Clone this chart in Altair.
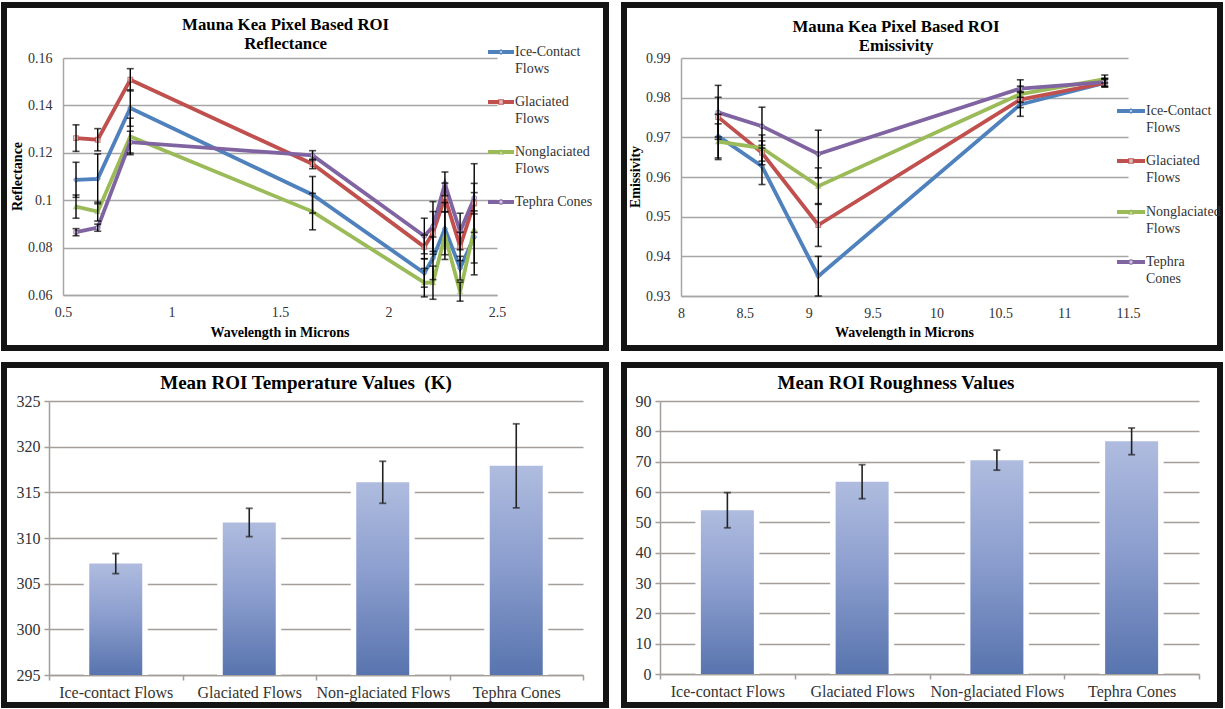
import altair as alt
import pandas as pd

SERIF = "Liberation Serif"
GRID = "#a6a6a6"
BAR_GRID = "#a39e99"
LABEL = "#333333"
FRAME = "#141414"

SERIES = ["Ice-Contact Flows", "Glaciated Flows", "Nonglaciated Flows", "Tephra Cones"]
SERIES_COLORS = ["#4f81bd", "#c0504d", "#9bbb59", "#8064a2"]
SERIES_SHAPES = ["diamond", "square", "triangle-up", "circle"]

# VNIR / SWIR reflectance (ASTER bands 1-9), wavelength in microns
refl_wavelength = [0.56, 0.66, 0.81, 1.65, 2.165, 2.205, 2.26, 2.33, 2.395]
refl_ice = [0.1086, 0.1090, 0.1389, 0.1023, 0.0693, 0.0755, 0.0880, 0.0713, 0.0845]
refl_glac = [0.1262, 0.1255, 0.1508, 0.1153, 0.0803, 0.0862, 0.1012, 0.0805, 0.0987]
refl_nong = [0.0973, 0.0952, 0.1269, 0.0952, 0.0652, 0.0652, 0.0850, 0.0614, 0.0878]
refl_teph = [0.0865, 0.0884, 0.1245, 0.1189, 0.0849, 0.0889, 0.1069, 0.0868, 0.1009]
refl_err_ice = [0.0074, 0.0105, 0.0077, 0.0077, 0.0060, 0.0090, 0.0110, 0.0050, 0.0110]
refl_err_glac = [0.0056, 0.0047, 0.0047, 0.0020, 0.0050, 0.0090, 0.0060, 0.0060, 0.0045]
refl_err_nong = [0.0049, 0.0040, 0.0077, 0.0077, 0.0060, 0.0070, 0.0100, 0.0040, 0.0193]
refl_err_teph = [0.0015, 0.0015, 0.0046, 0.0020, 0.0075, 0.0105, 0.0050, 0.0077, 0.0145]

# TIR emissivity (ASTER bands 10-14)
emis_wavelength = [8.291, 8.634, 9.075, 10.657, 11.318]
emis_ice = [0.9703, 0.9627, 0.9350, 0.9783, 0.9837]
emis_glac = [0.9751, 0.9661, 0.9479, 0.9795, 0.9837]
emis_nong = [0.9689, 0.9673, 0.9577, 0.9809, 0.9847]
emis_teph = [0.9763, 0.9728, 0.9658, 0.9823, 0.9839]
emis_err_ice = [0.0055, 0.0046, 0.0050, 0.0030, 0.0010]
emis_err_glac = [0.0050, 0.0030, 0.0054, 0.0020, 0.0010]
emis_err_nong = [0.0045, 0.0033, 0.0046, 0.0020, 0.0010]
emis_err_teph = [0.0068, 0.0048, 0.0060, 0.0022, 0.0010]

# Mean ROI temperature (K) and roughness
units = ["Ice-contact Flows", "Glaciated Flows", "Non-glaciated Flows", "Tephra Cones"]
temp_mean = [307.2, 311.7, 316.1, 317.9]
temp_err = [1.1, 1.55, 2.3, 4.6]
rough_mean = [54.0, 63.4, 70.5, 76.7]
rough_err = [5.8, 5.6, 3.3, 4.4]

ONE = alt.Data(values=[{"k": 0}])


def spectra_frame(wavelength, means, errors):
    rows = []
    for name, vals, errs in zip(SERIES, means, errors):
        for w, v, e in zip(wavelength, vals, errs):
            rows.append({"series": name, "wl": w, "val": v, "lo": v - e, "hi": v + e})
    return pd.DataFrame(rows)


def panel_frame(left, right, top, bottom, t=6):
    """Thick border drawn as four filled strips so its extent is exact."""
    strips = [(left, left + t, top, bottom), (right - t, right, top, bottom),
              (left, right, top, top + t), (left, right, bottom - t, bottom)]
    return [alt.Chart(ONE).mark_rect(color=FRAME).encode(
        x=alt.value(a), x2=alt.value(b), y=alt.value(c), y2=alt.value(d))
        for a, b, c, d in strips]


def text_at(x, y, text, size, bold=False, angle=0, baseline="middle",
            line_height=0, align="center", color="black"):
    kw = dict(text=text, font=SERIF, fontSize=size, align=align,
              baseline=baseline, color=color)
    if bold:
        kw["fontWeight"] = "bold"
    if angle:
        kw["angle"] = angle
    if line_height:
        kw["lineHeight"] = line_height
    return alt.Chart(ONE).mark_text(**kw).encode(x=alt.value(x), y=alt.value(y))


def spectra_panel(df, W, H, shift, xdom, xticks, ydom, yticks, title, title_xy,
                  title_lh, ytitle, xtitle_xy, ytitle_xy, leg_x, leg_ys,
                  leg_labels, box):
    # the plot rectangle starts `shift` px right of the view origin
    xs = alt.Scale(domain=xdom, nice=False, zero=False, range=[shift, shift + W])
    ys = alt.Scale(domain=ydom, nice=False, zero=False)
    x_axis = alt.Axis(values=xticks, format=".1~f", title=None, grid=False,
                      ticks=False, domainColor=GRID, domainWidth=1.5,
                      labelFont=SERIF, labelFontSize=14, labelColor=LABEL,
                      labelPadding=10, labelFlush=False, labelOverlap=False)
    y_axis = alt.Axis(values=yticks, format=".2~f", title=None, grid=True,
                      gridColor=GRID, gridWidth=1.5, ticks=False, offset=-shift,
                      domainColor=GRID, domainWidth=1.5, labelFont=SERIF,
                      labelFontSize=14, labelColor=LABEL, labelPadding=11,
                      labelOverlap=False)
    X = alt.X("wl:Q", scale=xs, axis=x_axis)
    color = alt.Color("series:N", scale=alt.Scale(domain=SERIES, range=SERIES_COLORS), legend=None)
    stroke = alt.Stroke("series:N", scale=alt.Scale(domain=SERIES, range=SERIES_COLORS), legend=None)
    shape = alt.Shape("series:N", scale=alt.Scale(domain=SERIES, range=SERIES_SHAPES), legend=None)

    base = alt.Chart(df)
    lines = base.mark_line(strokeWidth=3.8).encode(
        x=X, y=alt.Y("val:Q", scale=ys, axis=y_axis), color=color)
    points = base.mark_point(filled=True, fill="#eef0f6", size=22, strokeWidth=1.2).encode(
        x=X, y=alt.Y("val:Q", scale=ys, axis=y_axis), stroke=stroke, shape=shape)
    err = base.mark_rule(color="black", strokeWidth=1.4).encode(
        x=X, y=alt.Y("lo:Q", scale=ys, axis=y_axis), y2="hi:Q")
    cap_lo = base.mark_tick(orient="horizontal", size=7, thickness=1.6, color="black").encode(
        x=X, y=alt.Y("lo:Q", scale=ys, axis=y_axis))
    cap_hi = base.mark_tick(orient="horizontal", size=7, thickness=1.6, color="black").encode(
        x=X, y=alt.Y("hi:Q", scale=ys, axis=y_axis))

    layers = panel_frame(*box) + [lines, points, err, cap_lo, cap_hi]

    x0, x1 = leg_x[0] + shift, leg_x[1] + shift
    for i, name in enumerate(SERIES):
        yy = leg_ys[i]
        layers.append(alt.Chart(ONE).mark_rule(color=SERIES_COLORS[i], strokeWidth=4).encode(
            x=alt.value(x0), x2=alt.value(x1), y=alt.value(yy)))
        layers.append(alt.Chart(ONE).mark_point(
            shape=SERIES_SHAPES[i], filled=True, fill="#eef0f6", stroke=SERIES_COLORS[i],
            size=22, strokeWidth=1.2).encode(x=alt.value((x0 + x1) / 2), y=alt.value(yy)))
        layers.append(text_at(x1 + 1, yy - 7.5, leg_labels[i], 14, baseline="top",
                              line_height=17, align="left", color=LABEL))

    layers.append(text_at(title_xy[0] + shift, title_xy[1], title, 16.8, bold=True,
                          baseline="top", line_height=title_lh))
    layers.append(text_at(xtitle_xy[0] + shift, xtitle_xy[1], "Wavelength in Microns", 14, bold=True))
    layers.append(text_at(ytitle_xy[0] + shift, ytitle_xy[1], ytitle, 14, bold=True, angle=270))
    return alt.layer(*layers).properties(width=W + shift, height=H)


def bar_panel(means, errs, W, H, ydom, yticks, title, title_xy, box):
    df = pd.DataFrame({
        "unit": units,
        "val": means,
        "lo": [m - e for m, e in zip(means, errs)],
        "hi": [m + e for m, e in zip(means, errs)],
        "base": [ydom[0]] * len(units),
    })
    X = alt.X("unit:N", sort=units, scale=alt.Scale(paddingInner=0, paddingOuter=0),
              axis=alt.Axis(title=None, labelAngle=0, tickBand="extent", ticks=True,
                            tickSize=5, tickColor=BAR_GRID, tickWidth=1.5,
                            domainColor=BAR_GRID, domainWidth=1.5, grid=False,
                            labelFont=SERIF, labelFontSize=16, labelColor=LABEL,
                            labelPadding=4))
    ys = alt.Scale(domain=ydom, nice=False, zero=False)
    y_axis = alt.Axis(values=yticks, title=None, grid=True, gridColor=BAR_GRID,
                      gridWidth=1.5, ticks=True, tickSize=5, tickColor=BAR_GRID,
                      tickWidth=1.5, domainColor=BAR_GRID, domainWidth=1.5,
                      labelFont=SERIF, labelFontSize=16, labelColor=LABEL,
                      labelPadding=4, labelOverlap=False)
    gradient = alt.LinearGradient(
        gradient="linear",
        stops=[alt.GradientStop(color="#afbcdf", offset=0),
               alt.GradientStop(color="#8d9fcf", offset=0.45),
               alt.GradientStop(color="#5874ae", offset=1)],
        x1=0, x2=0, y1=0, y2=1)
    base = alt.Chart(df)
    halo = base.mark_bar(size=64, color="white").encode(
        x=X, y=alt.Y("val:Q", scale=ys, axis=y_axis), y2="base:Q")
    bars = base.mark_bar(size=53, color=gradient).encode(
        x=X, y=alt.Y("val:Q", scale=ys, axis=y_axis), y2="base:Q")
    err = base.mark_rule(color="#222222", strokeWidth=1.6).encode(
        x=X, y=alt.Y("lo:Q", scale=ys, axis=y_axis), y2="hi:Q")
    cap_lo = base.mark_tick(orient="horizontal", size=7, thickness=1.8, color="#222222").encode(
        x=X, y=alt.Y("lo:Q", scale=ys, axis=y_axis))
    cap_hi = base.mark_tick(orient="horizontal", size=7, thickness=1.8, color="#222222").encode(
        x=X, y=alt.Y("hi:Q", scale=ys, axis=y_axis))
    ttl = text_at(title_xy[0], title_xy[1], title, 19, bold=True)
    return alt.layer(*panel_frame(*box), halo, bars, err, cap_lo, cap_hi, ttl).properties(
        width=W, height=H)


refl_df = spectra_frame(refl_wavelength,
                        [refl_ice, refl_glac, refl_nong, refl_teph],
                        [refl_err_ice, refl_err_glac, refl_err_nong, refl_err_teph])
emis_df = spectra_frame(emis_wavelength,
                        [emis_ice, emis_glac, emis_nong, emis_teph],
                        [emis_err_ice, emis_err_glac, emis_err_nong, emis_err_teph])

# Panel boxes are given relative to each view origin as (left, right, top, bottom).
W1, H1, S1 = 434, 237, 14
reflectance = spectra_panel(
    refl_df, W1, H1, S1, [0.5, 2.5], [0.5, 1, 1.5, 2, 2.5], [0.06, 0.16],
    [0.06, 0.08, 0.10, 0.12, 0.14, 0.16],
    ["Mauna Kea Pixel Based ROI", "Reflectance"], (222.6, -41.4), 19.3,
    "Reflectance", (W1 / 2, H1 + 37.7), (-45.5, H1 / 2),
    (W1 - 9, W1 + 17), [-6, 44, 94, 144],
    [["Ice-Contact", "Flows"], ["Glaciated", "Flows"], ["Nonglaciated", "Flows"], "Tephra Cones"],
    (-48, 560, -56, 293))

W2, H2 = 447, 238
emissivity = spectra_panel(
    emis_df, W2, H2, 0, [8, 11.5], [8, 8.5, 9, 9.5, 10, 10.5, 11, 11.5], [0.93, 0.99],
    [0.93, 0.94, 0.95, 0.96, 0.97, 0.98, 0.99],
    ["Mauna Kea Pixel Based ROI", "Emissivity"], (215, -38.7), 19,
    "Emissivity", (W2 / 2, H2 + 36.7), (-45.5, H2 / 2),
    (W2 - 11, W2 + 17), [53, 103, 154, 204],
    [["Ice-Contact", "Flows"], ["Glaciated", "Flows"], ["Nonglaciated", "Flows"], ["Tephra", "Cones"]],
    (-60, 542, -56, 293))

W3, H3 = 534, 274
temperature = bar_panel(temp_mean, temp_err, W3, H3, [295, 325],
                        [295, 300, 305, 310, 315, 320, 325],
                        "Mean ROI Temperature Values \u00a0(K)", (257, -18.3),
                        (-48, 560, -39, 307))

W4, H4 = 539, 273
roughness = bar_panel(rough_mean, rough_err, W4, H4, [0, 90],
                      [0, 10, 20, 30, 40, 50, 60, 70, 80, 90],
                      "Mean ROI Roughness Values", (236, -18.3),
                      (-39, 563, -39, 307))

chart = alt.concat(
    reflectance, emissivity, temperature, roughness,
    columns=2,
    spacing={"row": 11, "column": 12},
    bounds="full",
    align="none",
).properties(
    padding={"left": 1, "top": 2, "right": 0, "bottom": 0},
    background="white",
).configure_view(strokeOpacity=0)

chart.save("out.html", embed_options={"renderer": "svg", "actions": False})
